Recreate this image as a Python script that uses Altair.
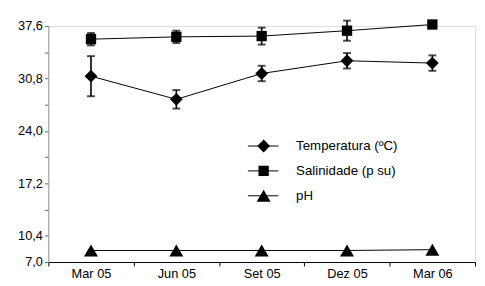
import altair as alt
import pandas as pd

months = ["Mar 05", "Jun 05", "Set 05", "Dez 05", "Mar 06"]
series = ["Temperatura (ºC)", "Salinidade (p su)", "pH"]
shapes = ["diamond", "square", "triangle-up"]
sizes = [170, 110, 200]

temp = [31.1, 28.1, 31.45, 33.1, 32.8]
temp_err = [2.6, 1.2, 1.0, 1.0, 1.0]
sal = [35.9, 36.2, 36.3, 37.0, 37.8]
sal_err = [0.8, 0.8, 1.1, 1.3, 0.0]
ph = [8.5, 8.5, 8.5, 8.5, 8.6]
ph_err = [0.0, 0.0, 0.0, 0.0, 0.0]

y_ticks = [7.0, 10.4, 13.8, 17.2, 20.6, 24.0, 27.4, 30.8, 34.2, 37.6]
y_labeled = [7.0, 10.4, 17.2, 24.0, 30.8, 37.6]

rows = []
for s, vals, errs in zip(series, [temp, sal, ph], [temp_err, sal_err, ph_err]):
    for m, v, e in zip(months, vals, errs):
        rows.append({"month": m, "series": s, "value": v, "lo": v - e, "hi": v + e, "err": e})
df = pd.DataFrame(rows)
df_err = df[df["err"] > 0]

FONT = "Liberation Sans"

x_enc = alt.X(
    "month:N",
    sort=months,
    scale=alt.Scale(type="band", domain=months, paddingInner=0, paddingOuter=0),
    axis=alt.Axis(
        title=None, labelAngle=0, tickBand="extent", domainColor="black",
        tickColor="black", tickSize=4, labelPadding=2, labelFont=FONT,
        labelFontSize=13, labelColor="black", grid=False,
    ),
)
y_scale = alt.Scale(domain=[7.0, 37.6], nice=False, zero=False)
cond = " || ".join("abs(datum.value - %s) < 0.01" % v for v in y_labeled)
label_expr = "(" + cond + ") ? replace(format(datum.value, '.1f'), '.', ',') : ''"
y_enc = alt.Y(
    "value:Q",
    scale=y_scale,
    axis=alt.Axis(
        title=None, values=y_ticks, tickCount=50, labelExpr=label_expr, labelOverlap=False,
        domainColor="#999999", tickColor="#666666", tickSize=4, labelPadding=2,
        labelFont=FONT, labelFontSize=13, labelColor="black", grid=False,
    ),
)

base = alt.Chart(df)

lines = base.mark_line(color="black", strokeWidth=1).encode(
    x=x_enc, y=y_enc, detail="series:N"
)

errbars = alt.Chart(df_err).mark_rule(color="black", strokeWidth=1.6).encode(
    x=alt.X("month:N", sort=months), y=alt.Y("lo:Q", scale=y_scale), y2="hi:Q"
)
cap_lo = alt.Chart(df_err).mark_tick(color="black", size=8, thickness=2).encode(
    x=alt.X("month:N", sort=months), y=alt.Y("lo:Q", scale=y_scale)
)
cap_hi = alt.Chart(df_err).mark_tick(color="black", size=8, thickness=2).encode(
    x=alt.X("month:N", sort=months), y=alt.Y("hi:Q", scale=y_scale)
)

point_layers = []
for s, shp, sz in zip(series, shapes, sizes):
    point_layers.append(
        base.transform_filter(alt.datum.series == s)
        .mark_point(filled=True, color="black", opacity=1, shape=shp, size=sz)
        .encode(x=x_enc, y=y_enc)
    )

legend_layers = []
leg_y = [122, 147.3, 172.6]
for lab, shp, sz, yy in zip(series, shapes, sizes, leg_y):
    ldf = pd.DataFrame({"label": [lab]})
    lc = alt.Chart(ldf)
    legend_layers.append(
        lc.mark_rule(color="black", strokeWidth=1).encode(
            x=alt.value(203), x2=alt.value(234), y=alt.value(yy)
        )
    )
    legend_layers.append(
        lc.mark_point(filled=True, color="black", opacity=1, shape=shp, size=sz).encode(
            x=alt.value(219), y=alt.value(yy)
        )
    )
    legend_layers.append(
        lc.mark_text(align="left", baseline="middle", font=FONT, fontSize=13.5, color="black").encode(
            x=alt.value(252), y=alt.value(yy), text="label:N"
        )
    )

chart = alt.layer(lines, errbars, cap_lo, cap_hi, *point_layers, *legend_layers).properties(
    width=434,
    height=240,
    autosize=alt.AutoSizeParams(type="none"),
    padding={"left": 41, "top": 16, "right": 2, "bottom": 22},
).configure_view(stroke=None).configure(background="white")

chart.save("out.html", embed_options={"renderer": "svg", "actions": False})
